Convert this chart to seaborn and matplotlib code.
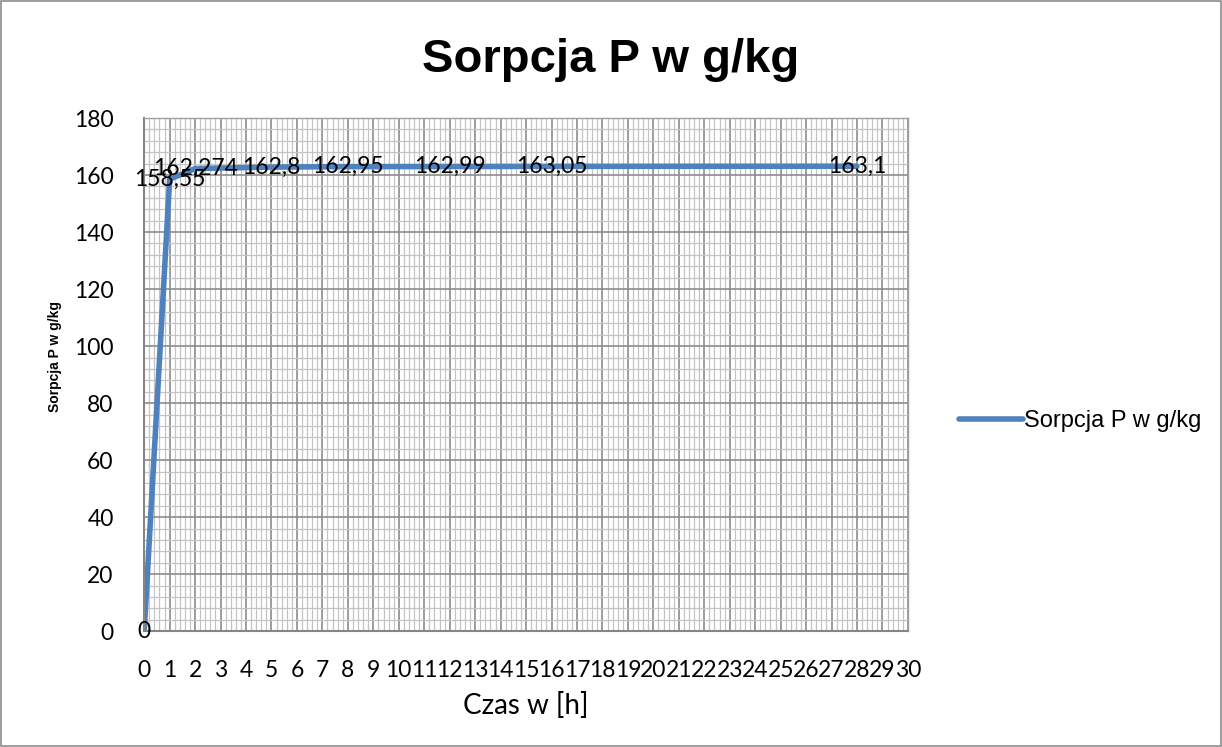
import matplotlib
matplotlib.use("Agg")
import matplotlib.pyplot as plt
import seaborn as sns
import pandas as pd
from matplotlib.ticker import MultipleLocator
from matplotlib.patches import Rectangle

# ── Data ──────────────────────────────────────────────────────────────────────
czas = [0, 1, 2, 5, 8, 12, 16, 28]
sorpcja = [0, 158.55, 162.274, 162.8, 162.95, 162.99, 163.05, 163.1]
etykiety = ["0", "158,55", "162,274", "162,8", "162,95", "162,99", "163,05", "163,1"]
x_ticks = list(range(0, 31))
y_ticks = list(range(0, 181, 20))

LINE_COLOR = "#4F81BD"
SERIES = "Sorpcja P w g/kg"

df = pd.DataFrame({"Czas": czas, "Sorpcja": sorpcja, "seria": SERIES})

sns.set_style("white")
plt.rcParams["font.family"] = ["Liberation Sans", "DejaVu Sans"]
plt.rcParams["text.color"] = "black"
plt.rcParams["axes.labelcolor"] = "black"
plt.rcParams["xtick.color"] = "black"
plt.rcParams["ytick.color"] = "black"
TICK_FONT = ["Lato", "DejaVu Sans"]

fig = plt.figure(figsize=(12.22, 7.47), dpi=100)
ax = fig.add_axes([0.118, 0.155, 0.625, 0.687])

sns.lineplot(data=df, x="Czas", y="Sorpcja", hue="seria", palette=[LINE_COLOR],
             linewidth=4, ax=ax, legend=True, solid_capstyle="round")

ax.set_xlim(0, 30)
ax.set_ylim(0, 180)
ax.set_xticks(x_ticks)
ax.set_yticks(y_ticks)
ax.xaxis.set_minor_locator(MultipleLocator(0.2))
ax.yaxis.set_minor_locator(MultipleLocator(4))
ax.grid(which="major", color="#8c8c8c", linewidth=1.2)
ax.grid(which="minor", color="#c4c4c4", linewidth=0.9)
ax.set_axisbelow(True)
ax.tick_params(which="both", length=0)
ax.tick_params(axis="x", pad=21)
ax.tick_params(axis="y", pad=22)
for lab in ax.get_xticklabels() + ax.get_yticklabels():
    lab.set_family(TICK_FONT)
    lab.set_fontsize(16.5)
for side in ["left", "bottom"]:
    ax.spines[side].set_color("#868686")
    ax.spines[side].set_linewidth(1.5)
for side in ["right", "top"]:
    ax.spines[side].set_color("#a0a0a0")
    ax.spines[side].set_linewidth(1)

# data labels centred on the points
for x, y, t in zip(czas, sorpcja, etykiety):
    ax.text(x, y, t, ha="center", va="center", fontsize=16.5, family=TICK_FONT,
            color="black", clip_on=False)

fig.text(0.5, 0.92, "Sorpcja P w g/kg", ha="center", va="center",
         fontsize=34, fontweight="bold")
ax.set_xlabel("Czas w [h]", fontsize=20, family=TICK_FONT, labelpad=8)
ax.set_ylabel("Sorpcja P w g/kg", fontsize=10, fontweight="bold")
ax.yaxis.set_label_coords(-0.108, 0.536)

leg = ax.legend(loc="center left", bbox_to_anchor=(1.039, 0.41), frameon=False,
                fontsize=17, handlelength=2.7, handletextpad=0.05)
for h in leg.get_lines():
    h.set_linewidth(4)

fig.patches.append(Rectangle((0.001, 0.001), 0.998, 0.998, transform=fig.transFigure,
                             fill=False, edgecolor="#8c8c8c", linewidth=1.2))

plt.savefig("out.png", dpi=100)
